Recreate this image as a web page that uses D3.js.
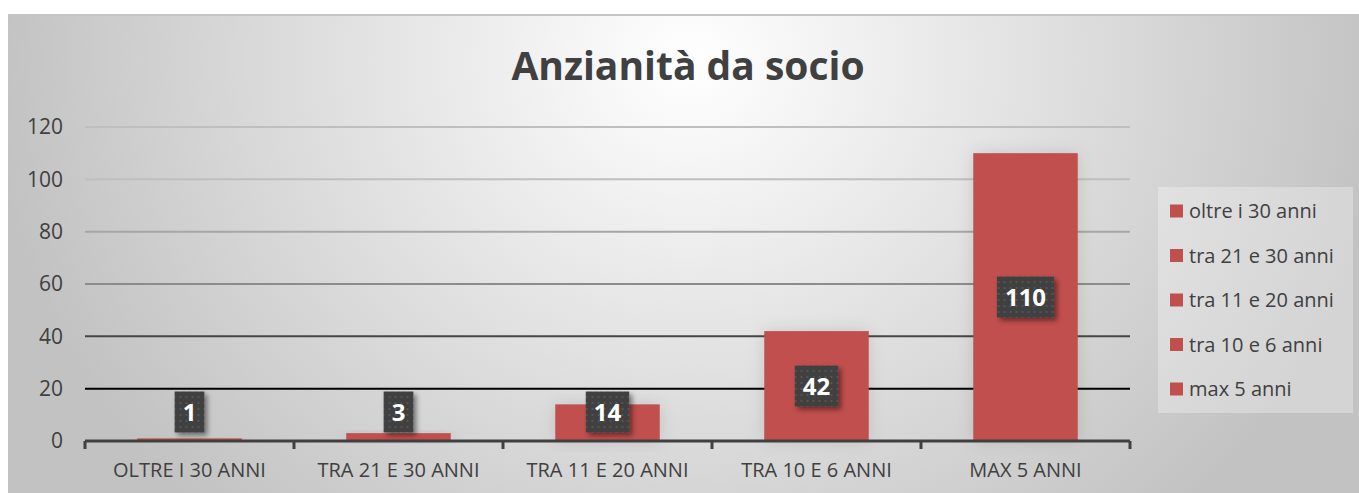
<!DOCTYPE html>
<html>
<head>
<meta charset="utf-8">
<script src="https://cdn.jsdelivr.net/npm/d3@7"></script>
<style>
  body { margin: 0; background: #ffffff; }
  svg { display: block; }
  text { font-family: "Open Sans", sans-serif; }
</style>
</head>
<body>
<div id="chart"></div>
<script>

// data
var categories = ["OLTRE I 30 ANNI", "TRA 21 E 30 ANNI", "TRA 11 E 20 ANNI", "TRA 10 E 6 ANNI", "MAX 5 ANNI"]
var legend_labels = ["oltre i 30 anni", "tra 21 e 30 anni", "tra 11 e 20 anni", "tra 10 e 6 anni", "max 5 anni"]
var values = [1, 3, 14, 42, 110]
var y_ticks = [0, 20, 40, 60, 80, 100, 120]
var chart_title = "Anzianità da socio"

var width = 1359
var height = 493
var bar_color = "#c0504d"

// plot area
var plot = {left: 85, right: 1130, top: 127, bottom: 441}

var svg = d3.select("#chart").append("svg")
  .attr("width", width)
  .attr("height", height)

var defs = svg.append("defs")

// background gradient of the chart frame
var bg = defs.append("radialGradient")
  .attr("id", "bg")
  .attr("gradientUnits", "userSpaceOnUse")
  .attr("cx", 690).attr("cy", 60)
  .attr("r", 700)
  .attr("gradientTransform", "translate(690,60) scale(1,0.9) translate(-690,-60)")
bg.append("stop").attr("offset", "0").attr("stop-color", "#ffffff")
bg.append("stop").attr("offset", "1").attr("stop-color", "#c2c2c2")

// dotted pattern for data labels
var pat = defs.append("pattern")
  .attr("id", "dots")
  .attr("width", 6).attr("height", 6)
  .attr("patternUnits", "userSpaceOnUse")
pat.append("rect").attr("width", 6).attr("height", 6).attr("fill", "#3f3f3f")
pat.append("rect").attr("x", 2).attr("y", 2).attr("width", 2).attr("height", 2).attr("fill", "#555555")

// shadows
var sh = defs.append("filter").attr("id", "shadow")
  .attr("x", "-30%").attr("y", "-30%").attr("width", "170%").attr("height", "170%")
sh.append("feDropShadow")
  .attr("dx", 3).attr("dy", 3).attr("stdDeviation", 2.5)
  .attr("flood-color", "#000").attr("flood-opacity", 0.45)

var bsh = defs.append("filter").attr("id", "barshadow")
  .attr("x", "-30%").attr("y", "-30%").attr("width", "160%").attr("height", "160%")
bsh.append("feDropShadow")
  .attr("dx", 0).attr("dy", 0).attr("stdDeviation", 8)
  .attr("flood-color", "#000").attr("flood-opacity", 0.12)

// chart frame
svg.append("rect")
  .attr("x", 8).attr("y", 15)
  .attr("width", width - 8).attr("height", height - 15)
  .attr("fill", "url(#bg)")
svg.append("line")
  .attr("x1", 8).attr("x2", width).attr("y1", 15).attr("y2", 15)
  .attr("stroke", "#c4c4c4").attr("stroke-width", 2)

// title
svg.append("text")
  .attr("x", 688).attr("y", 80)
  .attr("text-anchor", "middle")
  .attr("font-size", 39)
  .attr("font-weight", "bold")
  .attr("fill", "#404040")
  .text(chart_title)

// scales
var x = d3.scaleBand()
  .domain(categories)
  .range([plot.left, plot.right])
  .paddingInner(0.5)
  .paddingOuter(0.25)

var x_outer = d3.scaleBand()
  .domain(categories)
  .range([plot.left, plot.right])

var y = d3.scaleLinear()
  .domain([0, 120])
  .range([plot.bottom, plot.top])

// gridlines get darker towards the bottom
var grid_color = d3.scaleLinear()
  .domain([20, 60, 100])
  .range(["#000000", "#8c8c8c", "#bfbfbf"])
  .clamp(true)

svg.append("g")
  .selectAll("line")
  .data(y_ticks.filter(function(d){ return d > 0 }))
  .enter().append("line")
    .attr("x1", plot.left)
    .attr("x2", plot.right)
    .attr("y1", function(d){ return y(d) })
    .attr("y2", function(d){ return y(d) })
    .attr("stroke", function(d){ return grid_color(d) })
    .attr("stroke-width", 2)

// y axis labels
var y_axis = svg.append("g")
  .attr("transform", "translate(" + (plot.left - 22) + ",0)")
  .call(d3.axisLeft(y).tickValues(y_ticks).tickSize(0).tickPadding(0))
y_axis.select(".domain").remove()
y_axis.selectAll("text")
  .attr("font-size", 21)
  .attr("fill", "#404040")
  .attr("font-family", "Open Sans, sans-serif")

// bars
svg.append("g")
  .selectAll("rect")
  .data(values)
  .enter().append("rect")
    .attr("x", function(d, i){ return x(categories[i]) })
    .attr("y", function(d){ return y(d) })
    .attr("width", x.bandwidth())
    .attr("height", function(d){ return y(0) - y(d) })
    .attr("fill", bar_color)
    .attr("filter", "url(#barshadow)")

// x axis
var x_axis = svg.append("g")
  .attr("transform", "translate(0," + plot.bottom + ")")
  .call(d3.axisBottom(x_outer).tickSize(0).tickPadding(22))
x_axis.select(".domain")
  .attr("stroke", "#404040")
  .attr("stroke-width", 3)
  .attr("d", "M" + plot.left + ",0H" + plot.right)
x_axis.selectAll("text")
  .attr("font-size", 20)
  .attr("fill", "#404040")
  .attr("font-family", "Open Sans, sans-serif")

// tick marks between categories
var boundaries = categories.map(function(c){ return x_outer(c) }).concat([plot.right])
x_axis.selectAll(".sep")
  .data(boundaries)
  .enter().append("line")
    .attr("class", "sep")
    .attr("x1", function(d){ return d }).attr("x2", function(d){ return d })
    .attr("y1", 0).attr("y2", 8)
    .attr("stroke", "#404040")
    .attr("stroke-width", 3)

// data labels
var labels = svg.append("g")
  .selectAll("g")
  .data(values)
  .enter().append("g")
    .attr("transform", function(d, i){
      var cx = x(categories[i]) + x.bandwidth() / 2
      var cy = Math.min((y(d) + y(0)) / 2, plot.bottom - 29)
      return "translate(" + cx + "," + cy + ")"
    })

labels.append("text")
  .attr("class", "lbl")
  .attr("text-anchor", "middle")
  .attr("dy", "0.36em")
  .attr("font-size", 24)
  .attr("font-weight", "bold")
  .attr("fill", "#ffffff")
  .text(function(d){ return d })

labels.each(function(){
  var g = d3.select(this)
  var w = g.select("text").node().getComputedTextLength() + 16
  g.insert("rect", "text")
    .attr("x", -w / 2).attr("y", -20.5)
    .attr("width", w).attr("height", 41)
    .attr("fill", "url(#dots)")
    .attr("filter", "url(#shadow)")
})

// legend
var legend = svg.append("g")
  .attr("transform", "translate(1158,187)")

legend.append("rect")
  .attr("width", 195).attr("height", 226)
  .attr("fill", "#ffffff")
  .attr("fill-opacity", 0.3)

var items = legend.selectAll(".item")
  .data(legend_labels)
  .enter().append("g")
    .attr("class", "item")
    .attr("transform", function(d, i){ return "translate(12," + (24 + i * 44.5) + ")" })

items.append("rect")
  .attr("x", 0).attr("y", -6.5)
  .attr("width", 13).attr("height", 13)
  .attr("fill", bar_color)

items.append("text")
  .attr("x", 19)
  .attr("dy", "0.36em")
  .attr("font-size", 20)
  .attr("fill", "#404040")
  .text(function(d){ return d })

</script>
</body>
</html>
